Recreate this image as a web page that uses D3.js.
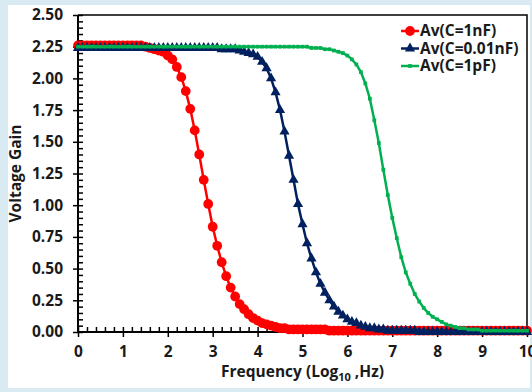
<html>
<style>
  body {
    margin: 0;
    background: #d9eaf3;
  }

  text {
    font-family: "Open Sans", sans-serif;
    font-weight: 700;
    fill: #1a1a1a;
  }

  .axis .domain {
    stroke: none;
  }

  .axis line {
    stroke: #000;
    stroke-width: 1.5;
  }
</style>

<head>
  <script src="https://d3js.org/d3.v7.min.js"></script>
</head>

<body>
  <svg id="chart" width="532" height="392"></svg>
  <script>
    // log10 frequency, step 0.1 decade
    const freq = [0, 0.1, 0.2, 0.3, 0.4, 0.5, 0.6, 0.7, 0.8, 0.9,
      1, 1.1, 1.2, 1.3, 1.4, 1.5, 1.6, 1.7, 1.8, 1.9,
      2, 2.1, 2.2, 2.3, 2.4, 2.5, 2.6, 2.7, 2.8, 2.9,
      3, 3.1, 3.2, 3.3, 3.4, 3.5, 3.6, 3.7, 3.8, 3.9,
      4, 4.1, 4.2, 4.3, 4.4, 4.5, 4.6, 4.7, 4.8, 4.9,
      5, 5.1, 5.2, 5.3, 5.4, 5.5, 5.6, 5.7, 5.8, 5.9,
      6, 6.1, 6.2, 6.3, 6.4, 6.5, 6.6, 6.7, 6.8, 6.9,
      7, 7.1, 7.2, 7.3, 7.4, 7.5, 7.6, 7.7, 7.8, 7.9,
      8, 8.1, 8.2, 8.3, 8.4, 8.5, 8.6, 8.7, 8.8, 8.9,
      9, 9.1, 9.2, 9.3, 9.4, 9.5, 9.6, 9.7, 9.8, 9.9, 10];

    // Av(C=1nF)
    const avRed = [2.26, 2.26, 2.26, 2.26, 2.26, 2.26, 2.26, 2.26, 2.26, 2.26,
      2.26, 2.26, 2.26, 2.26, 2.26, 2.25, 2.24, 2.23, 2.22, 2.21,
      2.18, 2.15, 2.09, 2.01, 1.90, 1.76, 1.59, 1.40, 1.20, 1.01,
      0.83, 0.68, 0.55, 0.44, 0.35, 0.28, 0.22, 0.18, 0.14, 0.11,
      0.09, 0.07, 0.06, 0.05, 0.04, 0.03, 0.03, 0.02, 0.02, 0.02,
      0.02, 0.02, 0.02, 0.02, 0.02, 0.02, 0.01, 0.01, 0.01, 0.01,
      0.01, 0.01, 0.01, 0.01, 0.01, 0.01, 0.01, 0.01, 0.01, 0.01,
      0.01, 0.01, 0.01, 0.01, 0.01, 0.01, 0.01, 0.01, 0.01, 0.01,
      0.01, 0.01, 0.01, 0.01, 0.01, 0.01, 0.01, 0.01, 0.01, 0.01,
      0.01, 0.01, 0.01, 0.01, 0.01, 0.01, 0.01, 0.01, 0.01, 0.01, 0.01];

    // Av(C=0.01nF)
    const avBlue = [2.24, 2.24, 2.24, 2.24, 2.24, 2.24, 2.24, 2.24, 2.24, 2.24,
      2.24, 2.24, 2.24, 2.24, 2.24, 2.24, 2.24, 2.24, 2.24, 2.24,
      2.24, 2.24, 2.24, 2.24, 2.24, 2.24, 2.24, 2.24, 2.24, 2.24,
      2.24, 2.24, 2.23, 2.23, 2.23, 2.23, 2.22, 2.21, 2.20, 2.19,
      2.17, 2.13, 2.08, 2.00, 1.89, 1.75, 1.58, 1.39, 1.20, 1.01,
      0.85, 0.70, 0.58, 0.47, 0.38, 0.31, 0.25, 0.20, 0.16, 0.13,
      0.10, 0.08, 0.07, 0.05, 0.04, 0.03, 0.03, 0.02, 0.02, 0.01,
      0.01, 0.01, 0.01, 0.01, 0.01, 0.01, 0.00, 0.00, 0.00, 0.00,
      0.00, 0.00, 0.00, 0.00, 0.00, 0.00, 0.00, 0.00, 0.00, 0.00,
      0.00, 0.00, 0.00, 0.00, 0.00, 0.00, 0.00, 0.00, 0.00, 0.00, 0.00];

    // Av(C=1pF)
    const avGreen = [2.25, 2.25, 2.25, 2.25, 2.25, 2.25, 2.25, 2.25, 2.25, 2.25,
      2.25, 2.25, 2.25, 2.25, 2.25, 2.25, 2.25, 2.25, 2.25, 2.25,
      2.25, 2.25, 2.25, 2.25, 2.25, 2.25, 2.25, 2.25, 2.25, 2.25,
      2.25, 2.25, 2.25, 2.25, 2.25, 2.25, 2.25, 2.25, 2.25, 2.25,
      2.25, 2.25, 2.25, 2.25, 2.25, 2.25, 2.25, 2.25, 2.25, 2.25,
      2.25, 2.25, 2.24, 2.24, 2.24, 2.23, 2.23, 2.22, 2.21, 2.20,
      2.18, 2.15, 2.11, 2.05, 1.96, 1.84, 1.67, 1.49, 1.28, 1.08,
      0.90, 0.74, 0.59, 0.47, 0.38, 0.30, 0.24, 0.19, 0.15, 0.12,
      0.10, 0.08, 0.06, 0.05, 0.04, 0.03, 0.03, 0.02, 0.02, 0.02,
      0.01, 0.01, 0.01, 0.01, 0.01, 0.01, 0.01, 0.01, 0.01, 0.01, 0.01];

    const seriesNames = ["Av(C=1nF)", "Av(C=0.01nF)", "Av(C=1pF)"];
    const xTicks = [0, 1, 2, 3, 4, 5, 6, 7, 8, 9, 10];
    const yTicks = [0, 0.25, 0.5, 0.75, 1, 1.25, 1.5, 1.75, 2, 2.25, 2.5];

    let svg = d3.select("svg#chart");
    const width = svg.attr("width");
    const height = svg.attr("height");
    const margin = { top: 15, right: 5, bottom: 60, left: 78 };
    const chartWidth = width - margin.left - margin.right;
    const chartHeight = height - margin.top - margin.bottom;

    // white panel
    svg.append("rect")
      .attr("x", 8).attr("y", 5)
      .attr("width", 522).attr("height", 383)
      .attr("fill", "white");

    const xScale = d3.scaleLinear().domain([0, 10]).range([margin.left, margin.left + chartWidth]);
    const yScale = d3.scaleLinear().domain([0, 2.5]).range([margin.top + chartHeight, margin.top]);

    // frame (top and right)
    svg.append("path")
      .attr("d", `M${xScale(0)},${yScale(2.5)}H${xScale(10)}V${yScale(0)}`)
      .attr("fill", "none").attr("stroke", "#000").attr("stroke-width", 1.5);

    // axis lines
    svg.append("line")
      .attr("x1", xScale(0)).attr("x2", xScale(0))
      .attr("y1", yScale(0)).attr("y2", yScale(2.5))
      .attr("stroke", "#000").attr("stroke-width", 2);
    svg.append("line")
      .attr("x1", xScale(0)).attr("x2", xScale(10))
      .attr("y1", yScale(0)).attr("y2", yScale(0))
      .attr("stroke", "#000").attr("stroke-width", 2);

    // Y axis: labels + outer major ticks, inner minor ticks
    svg.append("g").attr("class", "axis")
      .attr("transform", `translate(${xScale(0)},0)`)
      .call(d3.axisLeft(yScale).tickValues(yTicks).tickFormat(d3.format(".2f"))
        .tickSize(5).tickSizeOuter(0).tickPadding(10))
      .selectAll("text").style("font-size", "15.5px");
    svg.append("g").attr("class", "axis")
      .attr("transform", `translate(${xScale(0)},0)`)
      .call(d3.axisLeft(yScale).tickValues(d3.range(0, 2.501, 0.05))
        .tickFormat("").tickSize(-5).tickSizeOuter(0));

    // X axis
    svg.append("g").attr("class", "axis")
      .attr("transform", `translate(0,${yScale(0)})`)
      .call(d3.axisBottom(xScale).tickValues(xTicks).tickFormat(d3.format("d"))
        .tickSize(5).tickSizeOuter(0).tickPadding(9))
      .selectAll("text").style("font-size", "15.5px");
    svg.append("g").attr("class", "axis")
      .attr("transform", `translate(0,${yScale(0)})`)
      .call(d3.axisBottom(xScale).tickValues(d3.range(0, 10.01, 0.2))
        .tickFormat("").tickSize(-5).tickSizeOuter(0));

    // axis titles
    let xTitle = svg.append("text")
      .attr("x", (xScale(0) + xScale(10)) / 2)
      .attr("y", 377)
      .attr("text-anchor", "middle")
      .style("font-size", "15.5px");
    xTitle.append("tspan").text("Frequency (Log");
    xTitle.append("tspan").attr("dy", 4).style("font-size", "11px").text("10");
    xTitle.append("tspan").attr("dy", -4).text(" ,Hz)");

    svg.append("text")
      .attr("transform", `translate(21,${(yScale(0) + yScale(2.5)) / 2}) rotate(-90)`)
      .attr("text-anchor", "middle")
      .style("font-size", "15.5px")
      .text("Voltage Gain");

    const series = [
      { name: seriesNames[0], values: avRed, color: "#ff0000", symbol: d3.symbolCircle, size: 75 },
      { name: seriesNames[1], values: avBlue, color: "#002060", symbol: d3.symbolTriangle, size: 45 },
      { name: seriesNames[2], values: avGreen, color: "#00b050", symbol: d3.symbolSquare, size: 14 }
    ];

    const line = d3.line()
      .x(d => xScale(d[0]))
      .y(d => yScale(d[1]));

    series.forEach(s => {
      const pts = freq.map((f, i) => [f, s.values[i]]);
      let g = svg.append("g");
      g.append("path")
        .attr("d", line(pts))
        .attr("fill", "none")
        .attr("stroke", s.color)
        .attr("stroke-width", 2.5);
      g.selectAll("path.marker").data(pts)
        .join("path")
        .attr("class", "marker")
        .attr("transform", d => `translate(${xScale(d[0])},${yScale(d[1])})`)
        .attr("d", d3.symbol(s.symbol, s.size))
        .attr("fill", s.color);
    });

    // legend
    let legend = svg.append("g").attr("transform", "translate(401,31)");
    series.forEach((s, i) => {
      let row = legend.append("g").attr("transform", `translate(0,${i * 17.5})`);
      row.append("line")
        .attr("x1", 0).attr("x2", 18)
        .attr("stroke", s.color).attr("stroke-width", 2.5);
      row.append("path")
        .attr("transform", "translate(9,0)")
        .attr("d", d3.symbol(s.symbol, s.size))
        .attr("fill", s.color);
      row.append("text")
        .attr("x", 19).attr("dy", "0.35em")
        .style("font-size", "15.5px")
        .text(s.name);
    });
  </script>
</body>

</html>
